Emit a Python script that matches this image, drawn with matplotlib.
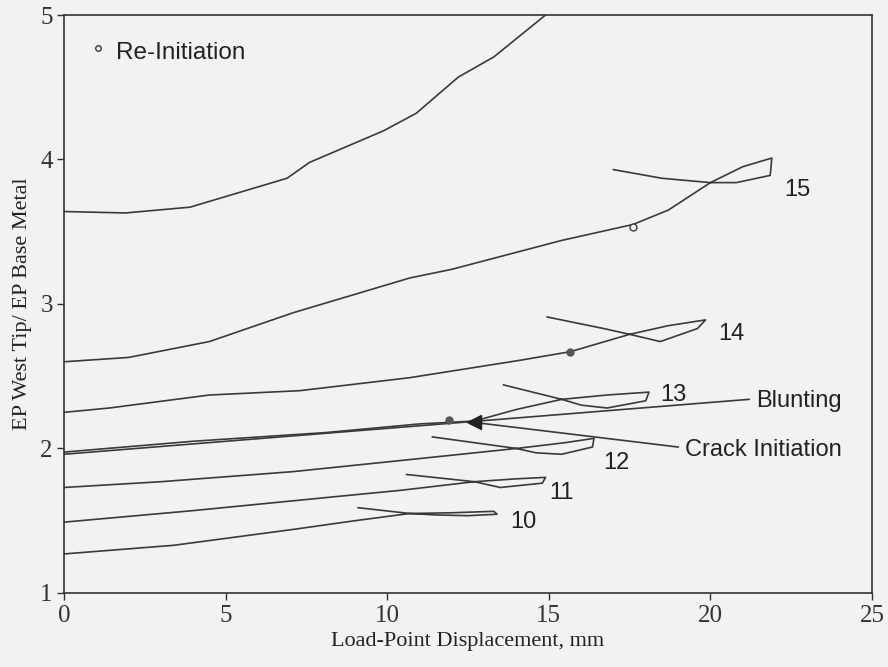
"""EP ratio (west tip / base metal) vs load-point displacement, curves 10-16."""
import matplotlib
matplotlib.use("Agg")
import matplotlib.pyplot as plt

LINE_COLOR = "#3a3a3a"
BG = "#f2f2f2"

# each curve: loading path, unloading loop and reload tail (mm, ratio)
c10_x = [0, 3.4, 7.1, 9.0, 10.7, 12.0, 13.3, 13.4, 12.5, 11.5, 10.7, 9.1]
c10_y = [1.27, 1.33, 1.44, 1.50, 1.55, 1.555, 1.565, 1.545, 1.535, 1.54, 1.55, 1.59]

c11_x = [0, 4.0, 8.1, 10.4, 12.7, 14.0, 14.9, 14.8, 13.5, 12.7, 10.6]
c11_y = [1.49, 1.57, 1.66, 1.71, 1.77, 1.79, 1.80, 1.76, 1.73, 1.77, 1.82]

c12_x = [0, 3.0, 7.1, 11.0, 14.0, 15.5, 16.4, 16.35, 15.4, 14.6, 14.0, 11.4]
c12_y = [1.73, 1.77, 1.84, 1.93, 2.00, 2.04, 2.07, 2.01, 1.96, 1.97, 2.00, 2.08]

c13_x = [0, 4.0, 8.1, 11.0, 12.7, 14.0, 15.4, 16.8, 18.1, 18.0, 16.8, 16.0, 15.4, 13.6]
c13_y = [1.975, 2.05, 2.11, 2.17, 2.19, 2.27, 2.34, 2.37, 2.39, 2.33, 2.28, 2.30, 2.34, 2.44]

c14_x = [0, 1.4, 4.5, 7.3, 10.7, 14.1, 15.67, 17.5, 18.7, 19.85, 19.6, 18.45, 17.5, 16.7, 14.95]
c14_y = [2.25, 2.28, 2.37, 2.40, 2.49, 2.61, 2.67, 2.79, 2.85, 2.89, 2.83, 2.74, 2.79, 2.83, 2.91]

c15_x = [0, 2.0, 4.5, 7.1, 10.7, 12.0, 15.4, 17.6, 18.7, 20.0, 21.0, 21.9, 21.85, 20.8, 20.0, 18.5, 17.0]
c15_y = [2.60, 2.63, 2.74, 2.94, 3.18, 3.24, 3.44, 3.55, 3.65, 3.84, 3.95, 4.01, 3.89, 3.84, 3.84, 3.87, 3.93]

c16_x = [0, 1.9, 3.9, 6.9, 7.6, 9.9, 10.9, 12.2, 13.3, 14.9]
c16_y = [3.64, 3.63, 3.67, 3.87, 3.98, 4.20, 4.32, 4.57, 4.71, 5.0]

curves = [(c10_x, c10_y), (c11_x, c11_y), (c12_x, c12_y), (c13_x, c13_y),
          (c14_x, c14_y), (c15_x, c15_y), (c16_x, c16_y)]

curve_labels = ["10", "11", "12", "13", "14", "15"]
label_x = [13.8, 15.0, 16.7, 18.45, 20.25, 22.3]
label_y = [1.49, 1.69, 1.90, 2.37, 2.79, 3.79]

blunting_x = [0, 21.2]
blunting_y = [1.96, 2.34]
crack_x = [12.7, 19.0]
crack_y = [2.18, 2.01]

reinit_open_x = [17.6]
reinit_open_y = [3.53]
reinit_dot_x = [11.9, 15.67]
reinit_dot_y = [2.20, 2.67]

SERIF = "Liberation Serif"
SANS = "Liberation Sans"

fig = plt.figure(figsize=(8.88, 6.67), dpi=100, facecolor=BG)
ax = fig.add_axes([0.072, 0.111, 0.910, 0.8665], facecolor=BG)

for xs, ys in curves:
    ax.plot(xs, ys, color=LINE_COLOR, linewidth=1.2, solid_joinstyle="round")

ax.plot(blunting_x, blunting_y, color=LINE_COLOR, linewidth=1.2)
ax.plot(crack_x, crack_y, color=LINE_COLOR, linewidth=1.2)
ax.plot(crack_x[:1], crack_y[:1], marker="<", markersize=10, color="#222222",
        linestyle="none")

ax.plot(reinit_open_x, reinit_open_y, marker="o", markersize=5, mfc=BG,
        mec=LINE_COLOR, mew=1.0, linestyle="none")
ax.plot(reinit_dot_x, reinit_dot_y, marker="o", markersize=5, color="#555555",
        linestyle="none")

for t, x, y in zip(curve_labels, label_x, label_y):
    ax.text(x, y, t, fontsize=17, family=SANS, color="#222222",
            ha="left", va="center")

ax.text(21.4, 2.33, "Blunting", fontsize=17, family=SANS, color="#222222",
        ha="left", va="center")
ax.text(19.2, 1.99, "Crack Initiation", fontsize=17, family=SANS,
        color="#222222", ha="left", va="center")

ax.plot([1.05], [4.77], marker="o", markersize=4, mfc=BG, mec=LINE_COLOR,
        mew=1.0, linestyle="none")
ax.text(1.6, 4.74, "Re-Initiation", fontsize=17.5, family=SANS,
        color="#222222", ha="left", va="center")

ax.set_xlim(0, 25)
ax.set_ylim(1, 5)
ax.set_xticks([0, 5, 10, 15, 20, 25])
ax.set_yticks([1, 2, 3, 4, 5])
ax.tick_params(direction="out", length=5, width=1, colors="#333333",
               labelsize=18)
ax.tick_params(axis="x", pad=4)
ax.tick_params(axis="y", pad=3)
for lab in ax.get_xticklabels() + ax.get_yticklabels():
    lab.set_family(SERIF)
for sp in ax.spines.values():
    sp.set_color("#333333")
    sp.set_linewidth(1.2)

ax.set_xlabel("Load-Point Displacement, mm", fontsize=16, family=SERIF,
              color="#222222", labelpad=3)
ax.set_ylabel("EP West Tip/ EP Base Metal", fontsize=16, family=SERIF,
              color="#222222", labelpad=6)

fig.savefig("out.png", dpi=100, facecolor=BG)
